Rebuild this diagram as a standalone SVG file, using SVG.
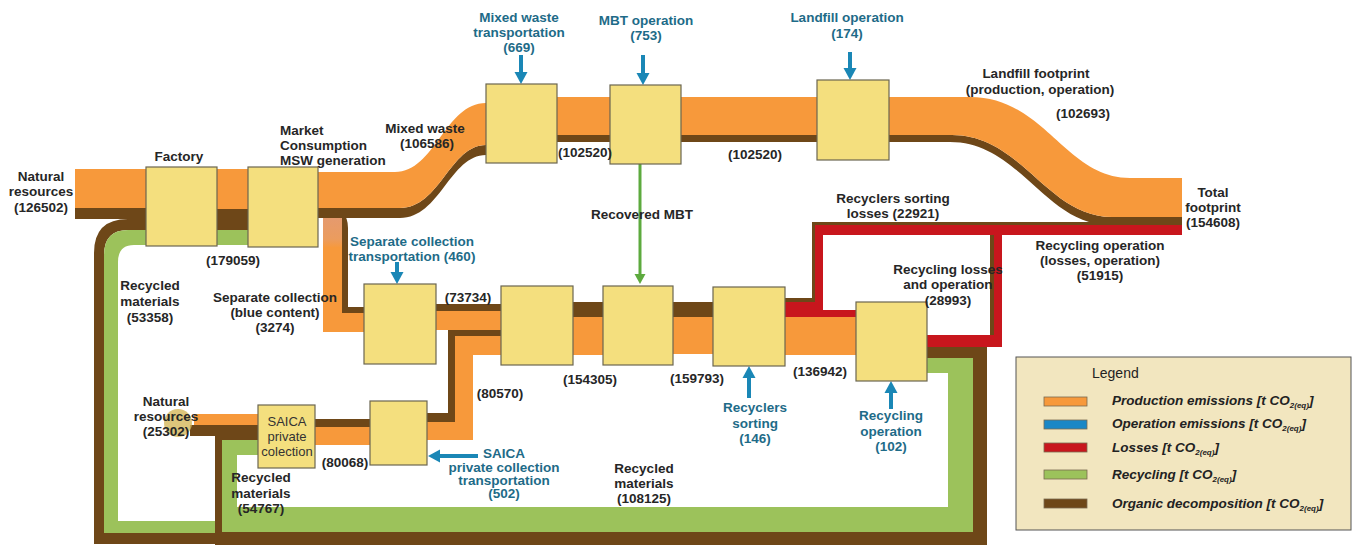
<svg xmlns="http://www.w3.org/2000/svg" width="1355" height="545" viewBox="0 0 1355 545">
<defs>
<style>
.o{fill:#F7993B}.b{fill:#6E4718}.g{fill:#9CC25B}.r{fill:#C8161D}
.box{fill:#F4DF7E;stroke:#6b6650;stroke-width:1.2}
.t{font-family:"Liberation Sans",Arial,sans-serif;font-size:13.5px;font-weight:bold;fill:#262626;text-anchor:middle}
.ts{text-anchor:start}
.tb{fill:#1E6B88}
.tn{font-family:"Liberation Sans",Arial,sans-serif;font-size:13px;fill:#333;text-anchor:middle}
.arr{stroke:#1A87B6;stroke-width:4;fill:none;marker-end:url(#ab)}
.lg{font-family:"Liberation Sans",Arial,sans-serif;font-size:13.5px;font-weight:bold;font-style:italic;fill:#222}
.sw{stroke:#7a6a50;stroke-width:0.8}
</style>
<marker id="ab" markerUnits="userSpaceOnUse" markerWidth="14" markerHeight="14" viewBox="0 0 14 14" refX="2" refY="7" orient="auto"><path d="M0,0.5 L12,7 L0,13.5 z" fill="#1A87B6"/></marker>
<marker id="ag" markerUnits="userSpaceOnUse" markerWidth="12" markerHeight="12" viewBox="0 0 12 12" refX="2" refY="6" orient="auto"><path d="M0,0.5 L10,6 L0,11.5 z" fill="#5DAA3E"/></marker>
<linearGradient id="sal" x1="0" y1="0" x2="0" y2="1"><stop offset="0" stop-color="#E59A6E"/><stop offset="0.7" stop-color="#EB9C5E"/><stop offset="1" stop-color="#F7993B"/></linearGradient>
</defs>
<rect width="1355" height="545" fill="#fff"/>
<g id="connectors">
<path class="b" d="M146,219 L128,219 Q94,219 94,253 L94,544 L222,544 L222,533 L104,533 L104,255 Q104,230 128,230 L146,230 Z"/>
<path class="g" d="M146,230 L128,230 Q104,230 104,255 L104,533 L216,533 L216,521 L118,521 L118,262 Q118,245 134,245 L146,245 Z"/>
<path class="b" d="M927,347 L987,347 L987,545 L215,545 L215,430 L258,430 L258,440 L222,440 L222,532 L973,532 L973,358 L927,358 Z"/>
<path class="g" d="M927,358 L973,358 L973,532 L222,532 L222,440 L258,440 L258,455 L237,455 L237,507 L948,507 L948,373 L927,373 Z"/>
<rect class="o" x="75" y="169" width="71" height="39"/>
<rect class="b" x="75" y="208" width="71" height="11"/>
<rect class="o" x="217" y="169" width="31" height="40"/>
<rect class="b" x="217" y="209" width="31" height="21"/>
<rect class="g" x="217" y="230" width="31" height="15"/>
<path class="b" d="M318,208 L400,208 C440,208 450,145 486,145 L486,155 C450,155 440,218 400,218 L318,218 Z"/>
<path class="o" d="M318,172 L395,172 C435,172 445,103 486,103 L486,145 C450,145 440,208 400,208 L318,208 Z"/>
<rect class="o" x="557" y="97" width="53" height="38"/>
<rect class="b" x="557" y="135" width="53" height="7"/>
<rect class="o" x="681" y="97" width="136" height="38"/>
<rect class="b" x="681" y="135" width="136" height="7"/>
<path class="b" d="M889,135 L952,135 C1022,135 1047,217 1112,217 L1182,217 L1182,225 L1110,225 C1045,225 1020,142 950,142 L889,142 Z"/>
<path class="o" d="M889,97 L970,97 C1045,97 1065,178 1130,178 L1182,178 L1182,217 L1112,217 C1047,217 1022,135 952,135 L889,135 Z"/>
<path class="b" d="M318,208 L328,208 Q348,208 348,228 L348,307 L364,307 L364,313 L342,313 L342,232 Q342,218 330,218 L318,218 Z"/>
<rect x="323" y="218" width="19" height="30" fill="url(#sal)"/>
<path class="o" d="M323,247 L342,247 L342,313 L364,313 L364,332 L323,332 Z"/>
<rect class="b" x="436" y="304" width="65" height="7"/>
<rect class="o" x="436" y="311" width="65" height="19"/>
<path class="b" d="M427,413 L448,413 L448,330 L501,330 L501,336 L455,336 L455,422 L427,422 Z"/>
<path class="o" d="M427,422 L455,422 L455,336 L501,336 L501,355 L473,355 L473,440 L427,440 Z"/>
<rect class="o" x="194" y="414" width="64" height="11"/>
<rect class="b" x="190" y="425" width="68" height="11"/>
<rect class="b" x="315" y="419" width="55" height="8"/>
<rect class="o" x="315" y="427" width="55" height="18"/>
<rect class="b" x="573" y="302" width="30" height="15"/>
<rect class="o" x="573" y="317" width="30" height="38"/>
<rect class="b" x="673" y="302" width="40" height="15"/>
<rect class="o" x="673" y="317" width="40" height="37"/>
<rect class="o" x="785" y="317" width="71" height="38"/>
<path class="b" d="M785,298 L812,298 L812,222 L1182,222 L1182,226 L816,226 L816,302 L785,302 Z"/>
<path class="r" d="M785,302 L815,302 L815,225 L1182,225 L1182,235 L823,235 L823,310 L856,310 L856,317 L785,317 Z"/>
<rect class="b" x="990" y="235" width="4" height="100"/>
<path class="r" d="M927,335 L994,335 L994,235 L1002,235 L1002,347 L927,347 Z"/>
<line x1="640" y1="164" x2="640" y2="276" stroke="#5DAA3E" stroke-width="3" marker-end="url(#ag)"/>
<line class="arr" x1="521" y1="55" x2="521" y2="74"/>
<line class="arr" x1="643" y1="55" x2="643" y2="75"/>
<line class="arr" x1="850" y1="52" x2="850" y2="70"/>
<line class="arr" x1="397" y1="262" x2="397" y2="274"/>
<line class="arr" x1="749" y1="398" x2="749" y2="376"/>
<line class="arr" x1="891" y1="409" x2="891" y2="391"/>
<line class="arr" x1="478" y1="456" x2="438" y2="456"/>
</g>
<circle cx="178" cy="423" r="14" fill="#D4B65A" opacity="0.8"/>
<g id="factory"><rect class="box" x="146" y="167" width="71" height="79"/><text class="t" x="179" y="161">Factory</text></g>
<g id="market"><rect class="box" x="248" y="167" width="70" height="80"/><text class="t ts" x="280" y="135">Market</text><text class="t ts" x="280" y="150">Consumption</text><text class="t ts" x="280" y="165">MSW generation</text></g>
<g id="mixed-waste-transport"><rect class="box" x="486" y="84" width="71" height="79"/><text class="t tb" x="519" y="22">Mixed waste</text><text class="t tb" x="519" y="37">transportation</text><text class="t tb" x="519" y="52">(669)</text></g>
<g id="mbt"><rect class="box" x="610" y="85" width="71" height="79"/><text class="t tb" x="646" y="25">MBT operation</text><text class="t tb" x="646" y="40">(753)</text></g>
<g id="landfill"><rect class="box" x="817" y="80" width="72" height="80"/><text class="t tb" x="847" y="22">Landfill operation</text><text class="t tb" x="847" y="38">(174)</text></g>
<g id="separate-collection-transport"><rect class="box" x="364" y="284" width="72" height="80"/><text class="t tb" x="412" y="246">Separate collection</text><text class="t tb" x="412" y="261">transportation (460)</text></g>
<g id="merge"><rect class="box" x="501" y="286" width="72" height="79"/></g>
<g id="mbt-merge"><rect class="box" x="603" y="286" width="70" height="79"/></g>
<g id="recyclers-sorting"><rect class="box" x="713" y="287" width="72" height="79"/><text class="t tb" x="755" y="412">Recyclers</text><text class="t tb" x="755" y="428">sorting</text><text class="t tb" x="755" y="443">(146)</text></g>
<g id="recycling-operation"><rect class="box" x="856" y="302" width="71" height="79"/><text class="t tb" x="891" y="420">Recycling</text><text class="t tb" x="891" y="436">operation</text><text class="t tb" x="891" y="451">(102)</text></g>
<g id="saica-collection"><rect class="box" x="258" y="405" width="57" height="63"/><text class="tn" x="287" y="426">SAICA</text><text class="tn" x="287" y="441">private</text><text class="tn" x="287" y="456">colection</text></g>
<g id="saica-transport"><rect class="box" x="370" y="401" width="57" height="64"/><text class="t tb" x="504" y="458">SAICA</text><text class="t tb" x="504" y="472">private collection</text><text class="t tb" x="504" y="485">transportation</text><text class="t tb" x="504" y="498">(502)</text></g>
<g id="labels">
<text class="t" x="41" y="181">Natural</text><text class="t" x="41" y="196">resources</text><text class="t" x="41" y="212">(126502)</text>
<text class="t" x="233" y="265">(179059)</text>
<text class="t" x="150" y="290">Recycled</text><text class="t" x="150" y="306">materials</text><text class="t" x="150" y="322">(53358)</text>
<text class="t" x="275" y="302">Separate collection</text><text class="t" x="275" y="317">(blue content)</text><text class="t" x="275" y="332">(3274)</text>
<text class="t" x="425" y="133">Mixed waste</text><text class="t" x="427" y="148">(106586)</text>
<text class="t" x="585" y="157">(102520)</text>
<text class="t" x="755" y="159">(102520)</text>
<text class="t" x="1036" y="78">Landfill footprint</text><text class="t" x="1040" y="94">(production, operation)</text><text class="t" x="1083" y="118">(102693)</text>
<text class="t" x="1213" y="197">Total</text><text class="t" x="1213" y="212">footprint</text><text class="t" x="1213" y="227">(154608)</text>
<text class="t" x="1100" y="250">Recycling operation</text><text class="t" x="1100" y="265">(losses, operation)</text><text class="t" x="1100" y="280">(51915)</text>
<text class="t" x="642" y="219">Recovered MBT</text>
<text class="t" x="468" y="302">(73734)</text>
<text class="t" x="590" y="384">(154305)</text>
<text class="t" x="500" y="398">(80570)</text>
<text class="t" x="697" y="383">(159793)</text>
<text class="t" x="820" y="376">(136942)</text>
<text class="t" x="893" y="203">Recyclers sorting</text><text class="t" x="893" y="218">losses (22921)</text>
<text class="t" x="948" y="274">Recycling losses</text><text class="t" x="948" y="289">and operation</text><text class="t" x="948" y="305">(28993)</text>
<text class="t" x="166" y="406">Natural</text><text class="t" x="166" y="421">resources</text><text class="t" x="166" y="436">(25302)</text>
<text class="t" x="345" y="467">(80068)</text>
<text class="t" x="261" y="482">Recycled</text><text class="t" x="261" y="498">materials</text><text class="t" x="261" y="513">(54767)</text>
<text class="t" x="644" y="473">Recycled</text><text class="t" x="644" y="488">materials</text><text class="t" x="644" y="503">(108125)</text>
</g>
<g id="legend">
<rect x="1016" y="357" width="335" height="173" fill="#F2E6BF" stroke="#555" stroke-width="1"/>
<text x="1092" y="378" font-family="Liberation Sans, Arial, sans-serif" font-size="14" fill="#222">Legend</text>
<rect class="sw" x="1044" y="397" width="43" height="9" fill="#F7993B"/>
<rect class="sw" x="1044" y="420" width="43" height="9" fill="#1A87C6"/>
<rect class="sw" x="1044" y="443" width="43" height="9" fill="#C8161D"/>
<rect class="sw" x="1044" y="470" width="43" height="9" fill="#9CC25B"/>
<rect class="sw" x="1044" y="499" width="43" height="9" fill="#6E4718"/>
<text class="lg" x="1112" y="405">Production emissions [t CO<tspan font-size="8" dy="3">2(eq)</tspan><tspan dy="-3">]</tspan></text>
<text class="lg" x="1112" y="428">Operation emissions [t CO<tspan font-size="8" dy="3">2(eq)</tspan><tspan dy="-3">]</tspan></text>
<text class="lg" x="1112" y="452">Losses [t CO<tspan font-size="8" dy="3">2(eq)</tspan><tspan dy="-3">]</tspan></text>
<text class="lg" x="1112" y="479">Recycling [t CO<tspan font-size="8" dy="3">2(eq)</tspan><tspan dy="-3">]</tspan></text>
<text class="lg" x="1112" y="508">Organic decomposition [t CO<tspan font-size="8" dy="3">2(eq)</tspan><tspan dy="-3">]</tspan></text>
</g>
</svg>
